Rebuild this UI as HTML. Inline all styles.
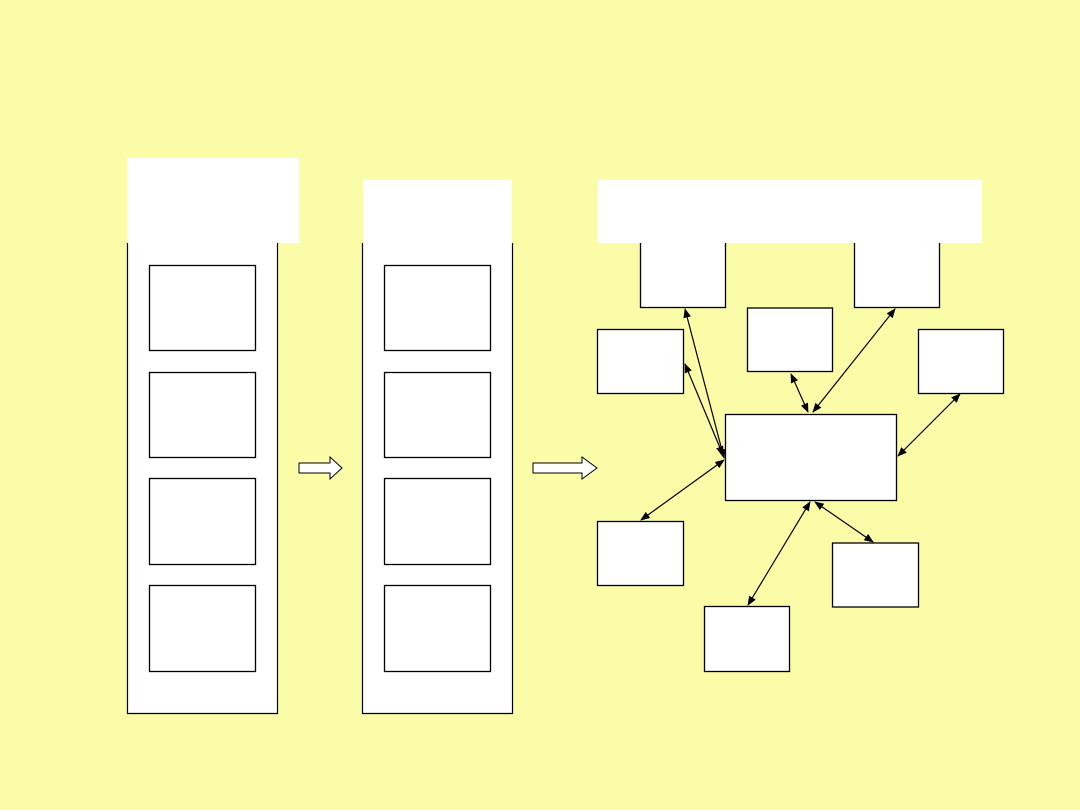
<!DOCTYPE html>
<html><head><style>html,body{margin:0;padding:0;background:#FAFCA8;overflow:hidden}</style></head><body>
<svg width="1080" height="810" xmlns="http://www.w3.org/2000/svg" style="display:block">
<defs><marker id="a" viewBox="0 0 10 10" refX="9" refY="5" markerWidth="8" markerHeight="8" orient="auto-start-reverse"><path d="M0,1 L10,5 L0,9z" fill="#000"/></marker></defs>
<rect width="1080" height="810" fill="#FAFCA8"/>
<g fill="#fff" stroke="none">
<rect x="127" y="158" width="172" height="85"/>
<rect x="363" y="180" width="149" height="63"/>
<rect x="127.5" y="243" width="150" height="470"/>
<rect x="362.5" y="243" width="150" height="470"/>
</g>
<g fill="none" stroke="#000" stroke-width="1.2">
<path d="M127.5,243 V713.5 H277.5 V243"/>
<path d="M362.5,243 V713.5 H512.5 V243"/>
</g>
<g fill="#fff" stroke="#000" stroke-width="1.3">
<rect x="149.5" y="265.5" width="106" height="85"/><rect x="149.5" y="372.5" width="106" height="85"/><rect x="149.5" y="478.5" width="106" height="86"/><rect x="149.5" y="585.5" width="106" height="86"/>
<rect x="384.5" y="265.5" width="106" height="85"/><rect x="384.5" y="372.5" width="106" height="85"/><rect x="384.5" y="478.5" width="106" height="86"/><rect x="384.5" y="585.5" width="106" height="86"/>
<rect x="640.5" y="235" width="85" height="72.5"/><rect x="854.5" y="235" width="85" height="72.5"/>
<rect x="597.5" y="329.5" width="86" height="64"/><rect x="747.5" y="308" width="85" height="63.5"/><rect x="918.5" y="329.5" width="85" height="64"/>
<rect x="725.5" y="414.5" width="171" height="86"/>
<rect x="597.5" y="521.5" width="86" height="64"/><rect x="704.5" y="606.5" width="85" height="65"/><rect x="832.5" y="543" width="86" height="64"/>
</g>
<rect x="598" y="180" width="384" height="63" fill="#fff"/>
<g stroke="#000" stroke-width="1.2" marker-start="url(#a)" marker-end="url(#a)">
<line x1="685" y1="309" x2="724" y2="458"/>
<line x1="685" y1="364" x2="723" y2="455"/>
<line x1="641" y1="520" x2="724" y2="460"/>
<line x1="791" y1="374" x2="808" y2="412"/>
<line x1="895" y1="309" x2="813" y2="412"/>
<line x1="960" y1="394" x2="898" y2="456"/>
<line x1="748" y1="605" x2="810" y2="502"/>
<line x1="873" y1="542" x2="815" y2="502"/>
</g>
<g fill="#fff" stroke="#000" stroke-width="1">
<path d="M299,463 H330 V457 L342,468 L330,479 V473 H299z"/>
<path d="M533,463 H582 V457 L597,468 L582,479 V473 H533z"/>
</g>
</svg>
</body></html>
